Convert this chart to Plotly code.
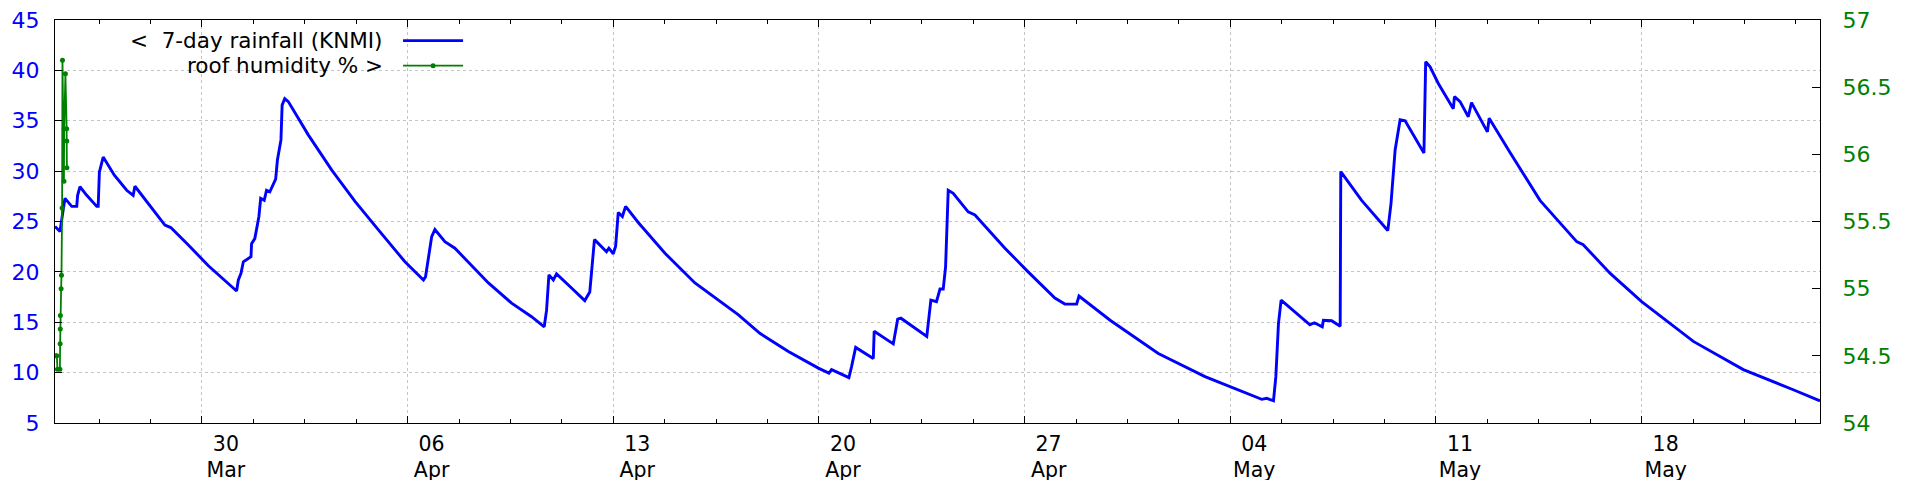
import pandas as pd
import plotly.graph_objects as go

# ---- data -------------------------------------------------------------
start_date = "2025-03-25"

# 7-day rainfall (KNMI): day offset from start, value in mm
rain_days = [
    0.00, 0.17, 0.27, 0.34, 0.57, 0.74, 0.77, 0.85, 1.08, 1.42, 1.47, 1.51, 1.64,
    2.02, 2.44, 2.66, 2.72, 3.18, 3.74, 3.94, 4.53, 5.22, 6.18, 6.24, 6.33, 6.41,
    6.52, 6.67, 6.69, 6.80, 6.94, 7.00, 7.12, 7.20, 7.31, 7.43, 7.51, 7.57, 7.69,
    7.73, 7.82, 7.94, 8.62, 9.42, 10.21, 11.00, 11.91, 12.54, 12.61, 12.82, 12.93,
    13.27, 13.61, 14.75, 15.54, 16.22, 16.65, 16.73, 16.81, 16.96, 17.07, 17.58,
    18.03, 18.20, 18.36, 18.43, 18.77, 18.85, 19.00, 19.08, 19.17, 19.31, 19.42,
    19.85, 20.76, 21.78, 22.01, 23.25, 23.99, 24.96, 25.98, 26.34, 26.43, 27.02,
    27.11, 27.25, 27.85, 27.88, 28.53, 28.68, 28.79, 29.67, 29.81, 30.00, 30.12,
    30.23, 30.31, 30.40, 30.57, 31.08, 31.31, 32.33, 33.12, 34.03, 34.37, 34.77,
    34.85, 35.91, 37.55, 39.14, 41.07, 41.24, 41.47, 41.55, 41.64, 41.73, 42.71,
    42.86, 43.13, 43.17, 43.45, 43.74, 43.76, 44.47, 45.36, 45.47, 45.61, 45.78,
    45.95, 46.59, 46.65, 46.80, 47.08, 47.59, 47.63, 47.82, 48.10, 48.21, 48.75,
    48.81, 49.51, 50.54, 51.79, 52.01, 52.93, 54.00, 55.76, 57.46, 59.16, 60.07,
]
rain_mm = [
    24.5, 24.0, 26.0, 27.3, 26.5, 26.5, 27.6, 28.45, 27.6, 26.5, 26.5, 29.9, 31.4,
    29.6, 28.1, 27.6, 28.5, 26.8, 24.65, 24.4, 22.7, 20.6, 18.1, 19.2, 19.85, 21.0,
    21.25, 21.5, 22.8, 23.3, 25.5, 27.3, 27.1, 28.1, 27.95, 28.8, 29.2, 31.1, 33.1,
    36.55, 37.2, 36.9, 33.6, 30.1, 27.0, 24.2, 21.0, 19.2, 19.5, 23.5, 24.2,
    23.0, 22.35, 18.9, 16.9, 15.55, 14.55, 16.2, 19.7, 19.2, 19.8, 18.4,
    17.15, 18.0, 23.2, 23.0, 22.0, 22.35, 21.8, 22.55, 25.9, 25.5, 26.5,
    24.9, 21.85, 18.9, 18.4, 15.75, 13.9, 12.1, 10.45, 9.95, 10.3, 9.5,
    10.6, 12.5, 11.4, 14.1, 12.85, 15.3, 15.4, 13.6, 17.2, 17.05, 18.3,
    18.3, 20.5, 28.1, 27.8, 25.95, 25.65, 22.35, 20.0, 17.4, 16.8, 16.8,
    17.6, 15.2, 11.9, 9.6, 7.35, 7.45, 7.2, 9.6, 14.9, 17.2, 14.75,
    14.95, 14.55, 15.2, 15.15, 14.6, 29.95, 27.1, 24.1, 26.8, 32.1, 35.1,
    35.0, 31.8, 40.85, 40.35, 38.7, 36.2, 37.4, 36.9, 35.4, 36.8, 33.9,
    35.25, 31.9, 27.1, 23.0, 22.7, 19.85, 17.05, 13.1, 10.3, 8.3, 7.2,
]

# roof humidity %: hour offset from start, value
hum_hours = [0.0, 1.5, 2.0, 4.0, 4.2, 4.3, 4.4, 5.0, 5.3, 5.8, 6.1, 7.3, 7.5, 8.5, 9.5, 9.6, 9.7]
hum_pct = [54.50, 54.50, 54.40, 54.40, 54.59, 54.70, 54.80, 55.0, 55.1, 55.6, 56.7,
           55.8, 56.19, 56.6, 56.19, 56.10, 55.9]

# x tick labels
x_tick_dates = ["2025-03-30", "2025-04-06", "2025-04-13", "2025-04-20",
                "2025-04-27", "2025-05-04", "2025-05-11", "2025-05-18"]
x_tick_labels = ["30<br>Mar", "06<br>Apr", "13<br>Apr", "20<br>Apr",
                 "27<br>Apr", "04<br>May", "11<br>May", "18<br>May"]
y_ticks = [5, 10, 15, 20, 25, 30, 35, 40, 45]
y2_ticks = [54, 54.5, 55, 55.5, 56, 56.5, 57]
y2_tick_labels = ["54", "54.5", "55", "55.5", "56", "56.5", "57"]

legend_labels = ["<\u00a0\u00a07-day rainfall (KNMI)", "roof humidity % >"]

# ---- build ------------------------------------------------------------
base = pd.Timestamp(start_date)
rain_x = base + pd.to_timedelta(rain_days, unit="D")
hum_x = base + pd.to_timedelta(hum_hours, unit="h")
x_end = base + pd.to_timedelta(rain_days[-1], unit="D")

BLUE = "#0000ff"
GREEN = "#008000"
FONT = "DejaVu Sans"
BLUE_W = 2.9
GREEN_W = 1.8

fig = go.Figure()
fig.add_trace(go.Scatter(x=rain_x, y=rain_mm, mode="lines",
                         line=dict(color=BLUE, width=BLUE_W), yaxis="y",
                         name=legend_labels[0]))
fig.add_trace(go.Scatter(x=hum_x, y=hum_pct, mode="lines+markers",
                         line=dict(color=GREEN, width=GREEN_W),
                         marker=dict(color=GREEN, size=5), yaxis="y2",
                         name=legend_labels[1]))

# page body has an 8px default margin, so the figure is 1912x472
fig.update_layout(
    width=1912, height=472,
    margin=dict(l=47, r=100, t=12, b=57, autoexpand=False),
    paper_bgcolor="white", plot_bgcolor="white",
    showlegend=False,
    font=dict(family=FONT, size=22, color="black"),
    xaxis=dict(
        range=[base, x_end], type="date", automargin=False,
        tickmode="array", tickvals=x_tick_dates, ticktext=x_tick_labels,
        ticks="inside", ticklen=7, tickcolor="black", tickwidth=1,
        ticklabelshift=24, ticklabelstandoff=2, ticklabeloverflow="allow",
        tickfont=dict(family=FONT, size=20.5, color="black"),
        showline=True, linecolor="black", linewidth=1, mirror="ticks",
        showgrid=True, gridcolor="#c4c4c4", griddash="dot", gridwidth=1,
        minor=dict(tickmode="linear", tick0="2025-03-30",
                   dtick=1.75 * 86400000, ticks="inside", ticklen=4,
                   tickcolor="black", showgrid=False),
        zeroline=False,
    ),
    yaxis=dict(
        range=[5, 45], tickmode="array", tickvals=y_ticks, automargin=False,
        ticks="inside", ticklen=7, tickcolor="black",
        tickfont=dict(family=FONT, size=22, color=BLUE),
        ticklabelstandoff=10, ticklabeloverflow="allow",
        showline=True, linecolor="black", linewidth=1, mirror=True,
        showgrid=True, gridcolor="#c4c4c4", griddash="dot", gridwidth=1,
        zeroline=False,
    ),
    yaxis2=dict(
        range=[54, 57], overlaying="y", side="right", automargin=False,
        tickmode="array", tickvals=y2_ticks, ticktext=y2_tick_labels,
        ticks="inside", ticklen=8, tickcolor="black",
        tickfont=dict(family=FONT, size=22, color=GREEN),
        ticklabelstandoff=17, ticklabeloverflow="allow",
        showline=True, linecolor="black", linewidth=1,
        showgrid=False, zeroline=False,
    ),
)

# custom legend (text on the left, sample on the right, as in gnuplot)
leg_text_x = 0.1870
leg_rows_y = [0.9487, 0.8867]
sample_x0, sample_x1 = 0.1972, 0.2312
for label, yy, col, w in zip(legend_labels, leg_rows_y, [BLUE, GREEN], [BLUE_W, GREEN_W]):
    fig.add_annotation(x=leg_text_x, y=yy, xref="paper", yref="paper",
                       text=label, showarrow=False, xanchor="right",
                       yanchor="middle", font=dict(family=FONT, size=21.5, color="black"))
    fig.add_shape(type="line", xref="paper", yref="paper",
                  x0=sample_x0, x1=sample_x1, y0=yy, y1=yy,
                  line=dict(color=col, width=w))
mx = (sample_x0 + sample_x1) / 2
fig.add_shape(type="circle", xref="paper", yref="paper",
              xsizemode="pixel", ysizemode="pixel",
              xanchor=mx, yanchor=leg_rows_y[1],
              x0=-2.5, x1=2.5, y0=-2.5, y1=2.5,
              fillcolor=GREEN, line=dict(color=GREEN, width=0))

fig.write_html("out.html")
